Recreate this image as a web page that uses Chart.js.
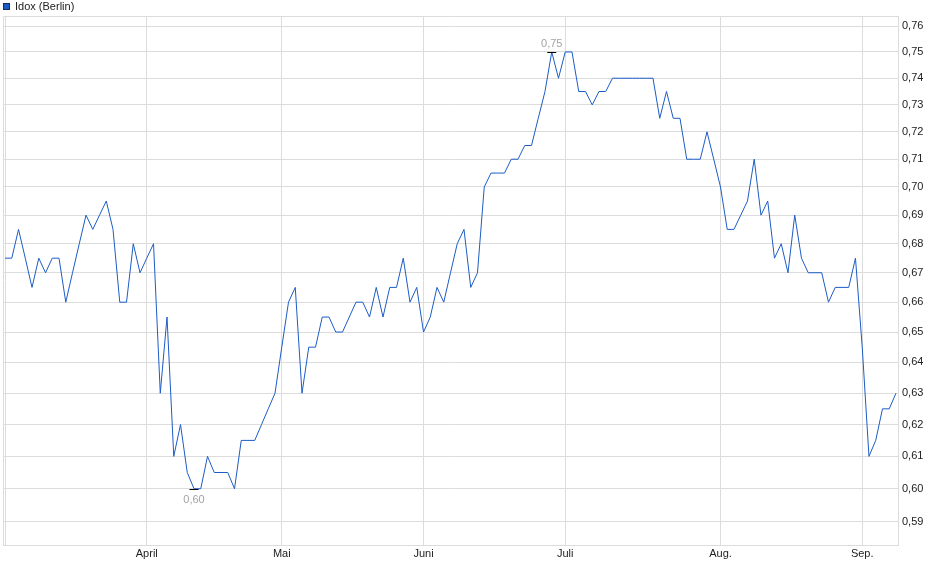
<!DOCTYPE html>
<html>
<head>
<meta charset="utf-8">
<script src="https://cdn.jsdelivr.net/npm/chart.js@4/dist/chart.umd.min.js"></script>
<style>
html,body{margin:0;padding:0;background:#fff;}
#wrap{width:940px;height:579px;position:relative;}
</style>
</head>
<body>
<div id="wrap"><canvas id="c" width="940" height="579"></canvas></div>
<script>
// ---- data ----
const seriesName = 'Idox (Berlin)';
const prices = [
  0.675, 0.675, 0.685, 0.675, 0.665, 0.675, 0.67, 0.675, 0.675, 0.66,
  0.67, 0.68, 0.69, 0.685, 0.69, 0.695, 0.685, 0.66, 0.66, 0.68,
  0.67, 0.675, 0.68, 0.63, 0.655, 0.61, 0.62, 0.605, 0.60, 0.60,
  0.61, 0.605, 0.605, 0.605, 0.60, 0.615, 0.615, 0.615, 0.62, 0.625,
  0.63, 0.645, 0.66, 0.665, 0.63, 0.645, 0.645, 0.655, 0.655, 0.65,
  0.65, 0.655, 0.66, 0.66, 0.655, 0.665, 0.655, 0.665, 0.665, 0.675,
  0.66, 0.665, 0.65, 0.655, 0.665, 0.66, 0.67, 0.68, 0.685, 0.665,
  0.67, 0.70, 0.705, 0.705, 0.705, 0.71, 0.71, 0.715, 0.715, 0.725,
  0.735, 0.75, 0.74, 0.75, 0.75, 0.735, 0.735, 0.73, 0.735, 0.735,
  0.74, 0.74, 0.74, 0.74, 0.74, 0.74, 0.74, 0.725, 0.735, 0.725,
  0.725, 0.71, 0.71, 0.71, 0.72, 0.71, 0.70, 0.685, 0.685, 0.69,
  0.695, 0.71, 0.69, 0.695, 0.675, 0.68, 0.67, 0.69, 0.675, 0.67,
  0.67, 0.67, 0.66, 0.665, 0.665, 0.665, 0.675, 0.645, 0.61, 0.615,
  0.625, 0.625, 0.63
];
const monthTickIndex = [0, 21, 41, 62, 83, 106, 127];
const monthTickLabels = ['', 'April', 'Mai', 'Juni', 'Juli', 'Aug.', 'Sep.'];
const yTickValues = [0.59, 0.60, 0.61, 0.62, 0.63, 0.64, 0.65, 0.66, 0.67, 0.68,
                     0.69, 0.70, 0.71, 0.72, 0.73, 0.74, 0.75, 0.76];
const yMin = 0.583, yMax = 0.7639;
const xMin = -0.3, xMax = 132.3;

// ---- styles ----
const FONT = 'Arial, "Liberation Sans", sans-serif';
const GRID = '#dcdcdc';
const LINE = '#1c5cc5';
const fmt = v => Number(v).toFixed(2).replace('.', ',');

const framePlugin = {
  id: 'frame',
  beforeDatasetsDraw(chart) {
    const a = chart.chartArea, ctx = chart.ctx;
    ctx.save();
    ctx.strokeStyle = GRID;
    ctx.lineWidth = 1;
    ctx.beginPath();
    ctx.moveTo(a.left + 0.5, a.bottom);
    ctx.lineTo(a.left + 0.5, a.top + 0.5);
    ctx.lineTo(a.right, a.top + 0.5);
    ctx.stroke();
    ctx.restore();
  }
};

const extremaPlugin = {
  id: 'extrema',
  afterDatasetsDraw(chart) {
    const ctx = chart.ctx, xs = chart.scales.x, ys = chart.scales.y;
    const vals = chart.data.datasets[0].data.map(p => p.y);
    const maxV = Math.max(...vals), minV = Math.min(...vals);
    const items = [
      {i: vals.indexOf(maxV), v: maxV, dy: -9},
      {i: vals.indexOf(minV), v: minV, dy: 10}
    ];
    ctx.save();
    items.forEach(it => {
      const px = xs.getPixelForValue(it.i), py = Math.round(ys.getPixelForValue(it.v)) + 0.5;
      ctx.strokeStyle = '#000';
      ctx.lineWidth = 1;
      ctx.beginPath();
      ctx.moveTo(px - 4.5, py);
      ctx.lineTo(px + 4.5, py);
      ctx.stroke();
      ctx.fillStyle = '#a3a3a3';
      ctx.font = '11px ' + FONT;
      ctx.textAlign = 'center';
      ctx.textBaseline = 'middle';
      ctx.fillText(fmt(it.v), px, py + it.dy);
    });
    ctx.restore();
  }
};

const legendPlugin = {
  id: 'legendBox',
  afterDraw(chart) {
    const ctx = chart.ctx;
    ctx.save();
    ctx.fillStyle = LINE;
    ctx.fillRect(3, 3, 7, 7);
    ctx.strokeStyle = '#1a2c55';
    ctx.lineWidth = 1;
    ctx.strokeRect(3.5, 3.5, 6, 6);
    ctx.fillStyle = '#222';
    ctx.font = '11px ' + FONT;
    ctx.textAlign = 'left';
    ctx.textBaseline = 'middle';
    ctx.fillText(chart.data.datasets[0].label, 15, 7);
    ctx.restore();
  }
};

const points = prices.map((p, i) => ({x: i, y: p}));

new Chart(document.getElementById('c'), {
  type: 'line',
  data: {
    datasets: [{
      label: seriesName,
      data: points,
      borderColor: LINE,
      backgroundColor: LINE,
      borderWidth: 1,
      pointRadius: 0,
      pointHoverRadius: 0,
      tension: 0,
      fill: false
    }]
  },
  options: {
    responsive: false,
    animation: false,
    devicePixelRatio: 1,
    layout: {padding: {left: 3, top: 16, right: 0, bottom: 0}},
    plugins: {legend: {display: false}, tooltip: {enabled: false}},
    events: [],
    scales: {
      x: {
        type: 'linear',
        position: 'bottom',
        min: xMin,
        max: xMax,
        afterBuildTicks: s => { s.ticks = monthTickIndex.map(v => ({value: v})); },
        afterFit: s => { s.height = 34; },
        grid: {color: GRID, drawTicks: false, lineWidth: 1},
        border: {display: true, color: GRID},
        ticks: {
          autoSkip: false, maxRotation: 0, padding: 2, color: '#222',
          font: {family: FONT, size: 11},
          callback: v => { const k = monthTickIndex.indexOf(v); return k >= 0 ? monthTickLabels[k] : ''; }
        }
      },
      y: {
        type: 'logarithmic',
        position: 'right',
        min: yMin,
        max: yMax,
        afterBuildTicks: s => {
          s.ticks = yTickValues.map(v => ({value: v}));
          s.min = yMin;
          s.max = yMax;
        },
        afterFit: s => { s.width = 42; },
        grid: {color: GRID, drawTicks: false, lineWidth: 1},
        border: {display: true, color: GRID},
        ticks: {
          padding: 4, color: '#222',
          font: {family: FONT, size: 11},
          callback: v => fmt(v)
        }
      }
    }
  },
  plugins: [framePlugin, extremaPlugin, legendPlugin]
});
</script>
</body>
</html>
